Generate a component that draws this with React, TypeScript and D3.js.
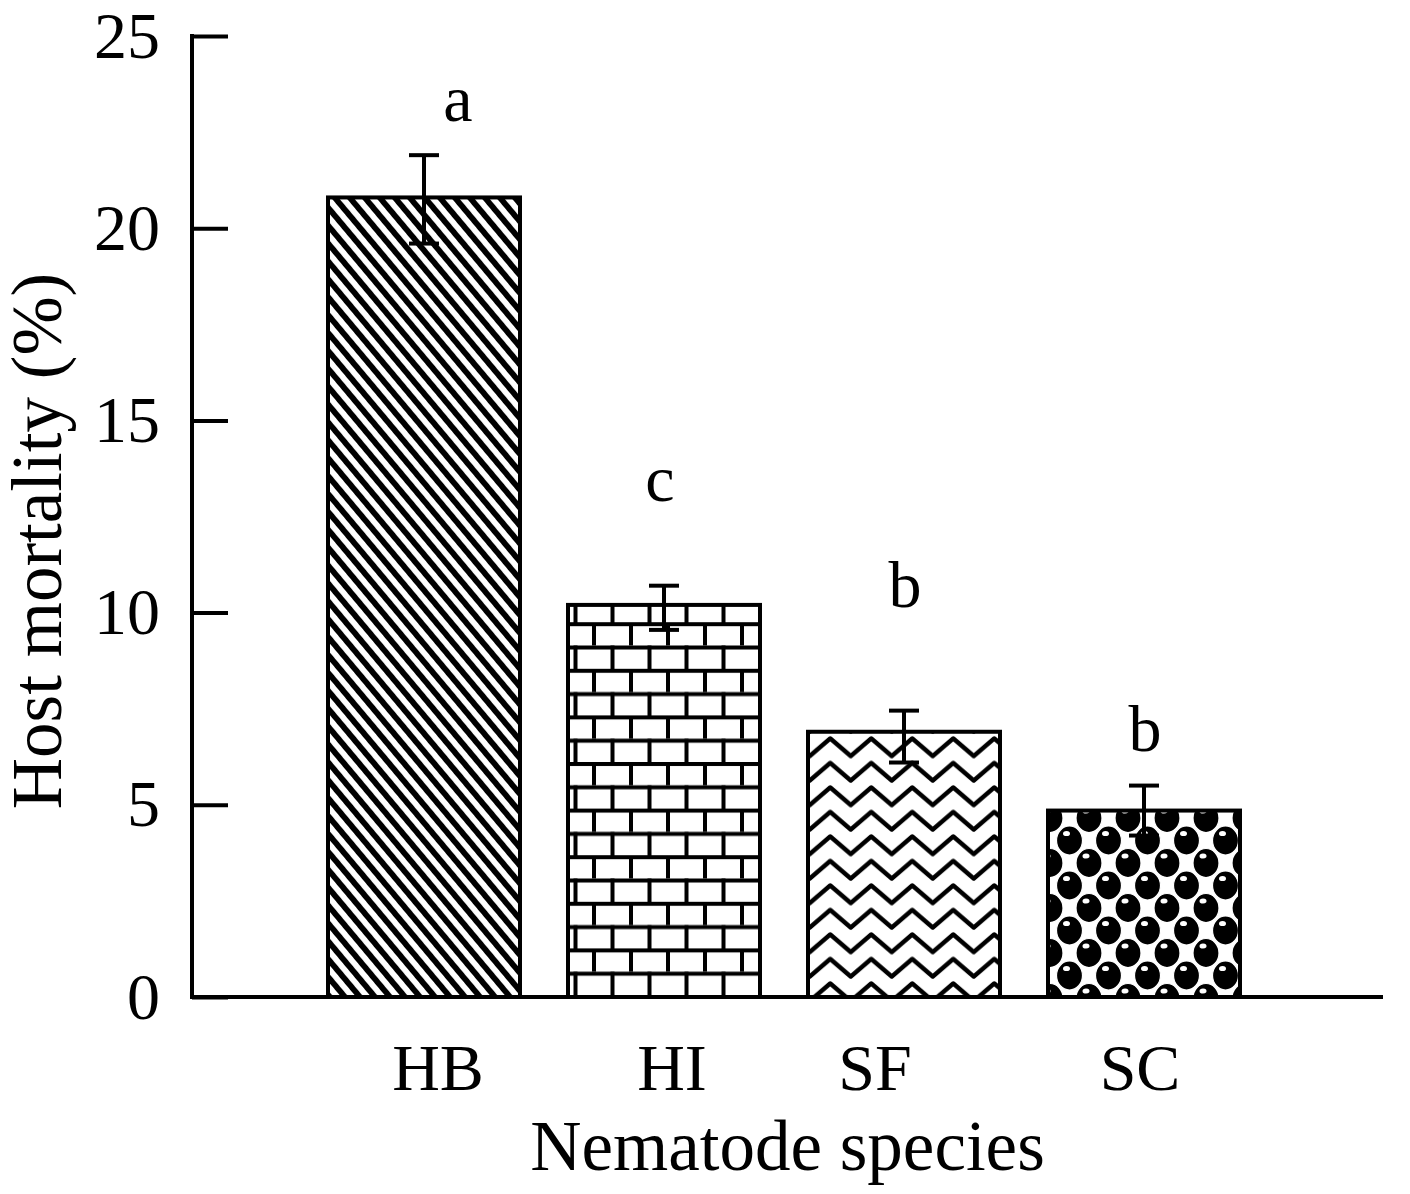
import { useRef, useEffect } from 'react';
import * as d3 from 'd3';

// data
const categories = ['HB', 'HI', 'SF', 'SC'];
const means = [20.8, 10.2, 6.9, 4.85];
const errUpper = [21.9, 10.7, 7.45, 5.5];
const errLower = [19.6, 9.55, 6.1, 4.2];
const letters = ['a', 'c', 'b', 'b'];
const letterLevels = [22.8, 12.9, 10.15, 6.4];
const yTicks = [0, 5, 10, 15, 20, 25];
const patternIds = ['p-stripes', 'p-bricks', 'p-zigzag', 'p-dots'];

const FONT = '"Liberation Serif", "Times New Roman", serif';

export default function App() {
  const svgRef = useRef<SVGSVGElement>(null);

  useEffect(() => {
    document.body.style.margin = '0';
    const svg = svgRef.current;
    if (!svg) return;

    const width = 1410;
    const height = 1194;
    const axisX = 192;
    const axisEnd = 1383;
    // small hand nudges so labels sit where the original figure put them
    const letterNudge = [34, -4, 1, 1];
    const labelNudge = [14, 8, -29, -4];

    const svgSel = d3.select(svg);
    svgSel.selectAll('*').remove();
    svgSel.attr('viewBox', `0 0 ${width} ${height}`);

    const x = d3
      .scaleBand<string>()
      .domain(categories)
      .range([280, 1288])
      .paddingInner(0.2)
      .paddingOuter(0.2);
    const y = d3.scaleLinear().domain([0, 25]).range([997, 36]);
    const centre = (d: string) => (x(d) ?? 0) + x.bandwidth() / 2;

    // fill patterns
    const defs = svgSel.append('defs');

    const stripes = defs
      .append('pattern')
      .attr('id', patternIds[0])
      .attr('patternUnits', 'userSpaceOnUse')
      .attr('width', 11.5)
      .attr('height', 20)
      .attr('patternTransform', 'rotate(-40)');
    stripes.append('rect').attr('width', 11.5).attr('height', 20).attr('fill', '#fff');
    stripes.append('rect').attr('width', 5.8).attr('height', 20).attr('fill', '#000');

    const bw = 37;
    const bh = 23.3;
    const bricks = defs
      .append('pattern')
      .attr('id', patternIds[1])
      .attr('patternUnits', 'userSpaceOnUse')
      .attr('width', bw)
      .attr('height', bh * 2)
      .attr('y', y(0) - 2);
    bricks.append('rect').attr('width', bw).attr('height', bh * 2).attr('fill', '#fff');
    bricks.append('rect').attr('y', 0).attr('width', bw).attr('height', 4).attr('fill', '#000');
    bricks.append('rect').attr('y', bh).attr('width', bw).attr('height', 4).attr('fill', '#000');
    bricks.append('rect').attr('x', 0).attr('y', 0).attr('width', 4).attr('height', bh).attr('fill', '#000');
    bricks.append('rect').attr('x', bw / 2).attr('y', bh).attr('width', 4).attr('height', bh).attr('fill', '#000');

    const zw = 41;
    const zh = 24.5;
    const zig = defs
      .append('pattern')
      .attr('id', patternIds[2])
      .attr('patternUnits', 'userSpaceOnUse')
      .attr('width', zw)
      .attr('height', zh);
    zig.append('rect').attr('width', zw).attr('height', zh).attr('fill', '#fff');
    zig
      .append('path')
      .attr('d', `M${-zw / 4},${zh - 3.5} L${zw / 4},3.5 L${(3 * zw) / 4},${zh - 3.5} L${(5 * zw) / 4},3.5`)
      .attr('fill', 'none')
      .attr('stroke', '#000')
      .attr('stroke-width', 4.5)
      .attr('stroke-linejoin', 'round');

    const dw = 39;
    const dh = 45;
    const dots = defs
      .append('pattern')
      .attr('id', patternIds[3])
      .attr('patternUnits', 'userSpaceOnUse')
      .attr('width', dw)
      .attr('height', dh)
      .attr('x', 1050)
      .attr('y', 818);
    dots.append('rect').attr('width', dw).attr('height', dh).attr('fill', '#fff');
    const dotCentres = [
      [0, 0],
      [dw, 0],
      [dw / 2, dh / 2],
      [0, dh],
      [dw, dh],
    ];
    dotCentres.forEach(([cx, cy]) => {
      dots
        .append('ellipse')
        .attr('cx', cx)
        .attr('cy', cy)
        .attr('rx', 13)
        .attr('ry', 14.5)
        .attr('fill', '#000')
        .attr('stroke', '#fff')
        .attr('stroke-width', 1.2);
      dots
        .append('ellipse')
        .attr('cx', cx - 3)
        .attr('cy', cy - 7)
        .attr('rx', 3.5)
        .attr('ry', 2.6)
        .attr('fill', '#fff');
    });

    // bars
    svgSel
      .append('g')
      .selectAll('rect')
      .data(categories)
      .join('rect')
      .attr('x', (d) => x(d) ?? 0)
      .attr('y', (_, i) => y(means[i]))
      .attr('width', x.bandwidth())
      .attr('height', (_, i) => y(0) - y(means[i]))
      .attr('fill', (_, i) => `url(#${patternIds[i]})`)
      .attr('stroke', '#000')
      .attr('stroke-width', 4);

    // error bars
    const cap = 15;
    const err = svgSel
      .append('g')
      .attr('stroke', '#000')
      .attr('stroke-width', 4)
      .selectAll('g')
      .data(categories)
      .join('g')
      .attr('transform', (d) => `translate(${centre(d)},0)`);
    err
      .append('line')
      .attr('y1', (_, i) => y(errUpper[i]))
      .attr('y2', (_, i) => y(errLower[i]));
    err
      .append('line')
      .attr('x1', -cap)
      .attr('x2', cap)
      .attr('y1', (_, i) => y(errUpper[i]))
      .attr('y2', (_, i) => y(errUpper[i]));
    err
      .append('line')
      .attr('x1', -cap)
      .attr('x2', cap)
      .attr('y1', (_, i) => y(errLower[i]))
      .attr('y2', (_, i) => y(errLower[i]));

    // significance letters
    svgSel
      .append('g')
      .selectAll('text')
      .data(letters)
      .join('text')
      .attr('x', (_, i) => centre(categories[i]) + letterNudge[i])
      .attr('y', (_, i) => y(letterLevels[i]))
      .attr('text-anchor', 'middle')
      .attr('font-family', FONT)
      .attr('font-size', 66)
      .text((d) => d);

    // y axis
    svgSel
      .append('g')
      .attr('transform', `translate(${axisX},0)`)
      .call(
        d3
          .axisLeft(y)
          .tickValues(yTicks)
          .tickSizeInner(-36)
          .tickSizeOuter(0)
          .tickPadding(32)
          .tickFormat((d) => `${d}`)
      )
      .call((sel) => {
        sel.select('.domain').remove();
        sel.selectAll('.tick line').attr('stroke', '#000').attr('stroke-width', 4);
        sel
          .selectAll('.tick text')
          .attr('fill', '#000')
          .attr('font-size', 66)
          .attr('font-family', FONT);
      });

    // axis lines
    svgSel
      .append('path')
      .attr('d', `M${axisX},${y(25) - 2} V${y(0)} H${axisEnd}`)
      .attr('fill', 'none')
      .attr('stroke', '#000')
      .attr('stroke-width', 4);

    // category labels
    svgSel
      .append('g')
      .selectAll('text')
      .data(categories)
      .join('text')
      .attr('x', (d, i) => centre(d) + labelNudge[i])
      .attr('y', 1090)
      .attr('text-anchor', 'middle')
      .attr('font-family', FONT)
      .attr('font-size', 66)
      .text((d) => d);

    // axis titles
    svgSel
      .append('text')
      .attr('x', (axisX + axisEnd) / 2)
      .attr('y', 1170)
      .attr('text-anchor', 'middle')
      .attr('font-family', FONT)
      .attr('font-size', 71)
      .text('Nematode species');

    svgSel
      .append('text')
      .attr('transform', `translate(61,541) rotate(-90)`)
      .attr('text-anchor', 'middle')
      .attr('font-family', FONT)
      .attr('font-size', 71)
      .text('Host mortality (%)');
  }, []);

  return (
    <svg
      ref={svgRef}
      width={1410}
      height={1194}
      style={{ display: 'block', background: '#fff' }}
    />
  );
}
